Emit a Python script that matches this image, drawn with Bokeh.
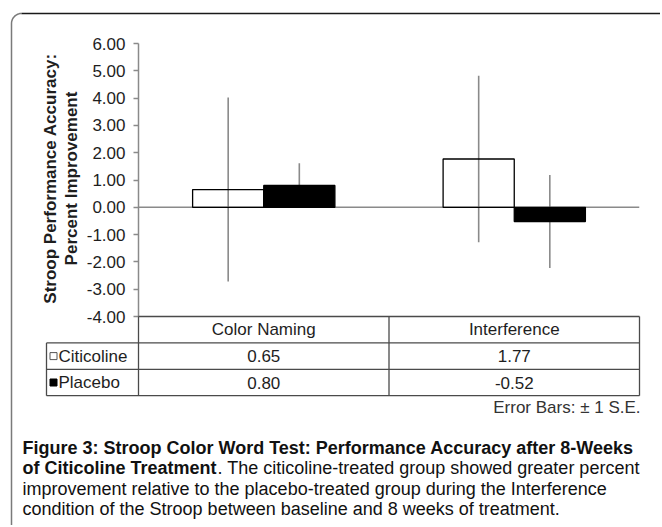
import math
from bokeh.plotting import figure
from bokeh.models import ColumnDataSource, Range1d, FixedTicker, NumeralTickFormatter
from bokeh.transform import dodge
from bokeh.core.properties import value
from bokeh.embed import file_html
from bokeh.resources import INLINE

# ---------------- data ----------------
conditions = ["Color Naming", "Interference"]
groups = ["Citicoline", "Placebo"]
citicoline = [0.65, 1.77]
placebo = [0.80, -0.52]
citicoline_se = [3.37, 3.05]
placebo_se = [0.81, 1.70]
y_ticks = [-4, -3, -2, -1, 0, 1, 2, 3, 4, 5, 6]
axis_title = ["Stroop Performance Accuracy:", "Percent Improvement"]
note = "Error Bars: \u00b1 1 S.E."
cap_line1 = "Figure 3: Stroop Color Word Test: Performance Accuracy after 8-Weeks"
cap_line2_bold = "of Citicoline Treatment"
cap_line2_rest = ". The citicoline-treated group showed greater percent"
cap_line3 = "improvement relative to the placebo-treated group during the Interference"
cap_line4 = "condition of the Stroop between baseline and 8 weeks of treatment."

FONT = "Liberation Sans"
GREY = "#8a8a8a"
TXT = "#1e1e1e"

# ---------------- figure ----------------
W, H = 660, 525
FL, FR, FT, FB = 138, 639, 43, 316   # plot frame in page pixels
n = len(conditions)
p = figure(width=W, height=H, output_backend="svg", toolbar_location=None,
           x_range=Range1d(0, n), y_range=Range1d(-4, 6), x_axis_location=None,
           min_border_left=FL, min_border_right=W - FR, min_border_top=FT, min_border_bottom=H - FB)
p.outline_line_color = None
p.grid.grid_line_color = None
p.background_fill_color = "white"
p.border_fill_color = "white"

# page-pixel helper ranges
p.extra_x_ranges = {"px": Range1d(FL, FR)}
p.extra_y_ranges = {"px": Range1d(FB, FT)}

ax = p.yaxis[0]
ax.ticker = FixedTicker(ticks=y_ticks)
ax.formatter = NumeralTickFormatter(format="0.00")
ax.major_label_text_font = FONT
ax.major_label_text_font_size = "17px"
ax.major_label_text_color = TXT
ax.axis_line_color = GREY
ax.axis_line_width = 1.5
ax.major_tick_line_color = GREY
ax.major_tick_line_width = 1.5
ax.major_tick_out = 5
ax.major_tick_in = 0
ax.minor_tick_line_color = None
ax.major_label_standoff = 8

# ---------------- bars & error bars ----------------
src = ColumnDataSource(dict(
    cond=conditions,
    xpos=[i + 0.5 for i in range(n)],
    cit=citicoline, pla=placebo,
    cit_lo=[v - s for v, s in zip(citicoline, citicoline_se)],
    cit_hi=[v + s for v, s in zip(citicoline, citicoline_se)],
    pla_lo=[v - s for v, s in zip(placebo, placebo_se)],
    pla_hi=[v + s for v, s in zip(placebo, placebo_se)],
    cit_txt=[f"{v:.2f}" for v in citicoline],
    pla_txt=[f"{v:.2f}" for v in placebo],
))
bar_w = 0.284
off = bar_w / 2

# zero line
p.segment(x0=0, x1=n, y0=0, y1=0, line_color=GREY, line_width=1.6)

xc = dodge("xpos", -off)
xp = dodge("xpos", off)
p.segment(x0=xc, x1=xc, y0="cit_lo", y1="cit_hi", source=src, line_color=GREY, line_width=1.6)
p.segment(x0=xp, x1=xp, y0="pla_lo", y1="pla_hi", source=src, line_color=GREY, line_width=1.6)

p.vbar(x=xc, top="cit", bottom=0, width=bar_w, source=src,
       fill_alpha=0, line_color="black", line_width=1.3)
p.vbar(x=xp, top="pla", bottom=0, width=bar_w, source=src,
       fill_color="black", line_color="black", line_width=1.3)

# ---------------- data table below the chart ----------------
TL = "#4a4a4a"
row_h = 26.4
rows_y = [FB + i * row_h for i in range(4)]
label_left = 46
kw = dict(level="overlay", y_range_name="px")
pkw = dict(level="overlay", x_range_name="px", y_range_name="px")

p.segment(x0=0, x1=n, y0=rows_y[0], y1=rows_y[0], line_color=TL, line_width=1.3, **kw)
p.segment(x0=[label_left] * 3, x1=[FR] * 3, y0=rows_y[1:], y1=rows_y[1:],
          line_color=TL, line_width=1.3, **pkw)
bounds = list(range(n + 1))
p.segment(x0=bounds, x1=bounds, y0=[rows_y[0]] * len(bounds), y1=[rows_y[-1]] * len(bounds),
          line_color=TL, line_width=1.3, **kw)
p.segment(x0=[label_left], x1=[label_left], y0=[rows_y[1]], y1=[rows_y[-1]],
          line_color=TL, line_width=1.3, **pkw)

mid = [(rows_y[i] + rows_y[i + 1]) / 2 for i in range(3)]
tkw = dict(text_font=value(FONT), text_font_size="17px", text_color=TXT,
           text_align="center", text_baseline="middle", **kw)
p.text(x="xpos", y=mid[0], text="cond", source=src, **tkw)
p.text(x="xpos", y=mid[1], text="cit_txt", source=src, **tkw)
p.text(x="xpos", y=mid[2], text="pla_txt", source=src, **tkw)

# row labels with legend swatches
sq = 3.5
p.quad(left=[53 - sq] * 2, right=[53 + sq] * 2, top=[m - sq for m in mid[1:]], bottom=[m + sq for m in mid[1:]],
       fill_color=["white", "black"], line_color=["#555555", "black"], line_width=1, **pkw)
p.text(x=[58, 58], y=mid[1:], text=groups, text_font=value(FONT), text_font_size="17px",
       text_color=TXT, text_align="left", text_baseline="middle", **pkw)

# error bar note
p.text(x=[640], y=[407], text=[note], text_font=value(FONT), text_font_size="17px",
       text_color="#333333", text_align="right", text_baseline="middle", **pkw)

# y axis title (two lines)
p.text(x=[50, 71], y=[178, 178], text=axis_title, angle=math.pi / 2,
       text_font=value(FONT), text_font_size="17px", text_font_style="bold",
       text_color=TXT, text_align="center", text_baseline="middle", **pkw)

# caption
cap_y0, cap_dy = 447, 20.5
ckw = dict(text_font=value(FONT), text_font_size="18px", text_color="#111111",
           text_align="left", text_baseline="middle", **pkw)
p.text(x=[22, 22], y=[cap_y0, cap_y0 + cap_dy], text=[cap_line1, cap_line2_bold],
       text_font_style="bold", **ckw)
p.text(x=[217, 22, 22], y=[cap_y0 + cap_dy, cap_y0 + 2 * cap_dy, cap_y0 + 3 * cap_dy],
       text=[cap_line2_rest, cap_line3, cap_line4], **ckw)

# outer rounded frame of the figure panel
r = 10
bx, by = 11, 13
ts = [i * (math.pi / 2) / 12 for i in range(13)]
fx = [bx, bx] + [bx + r - r * math.cos(t) for t in ts]
fy = [H + 20, by + r] + [by + r - r * math.sin(t) for t in ts]
p.line(x=fx, y=fy, line_color="#7a7a7a", line_width=1.5, **pkw)
p.segment(x0=[bx + r], x1=[W + 20], y0=[by], y1=[by], line_color="#1a1a1a", line_width=1.5, **pkw)

open("out.html", "w").write(file_html(p, INLINE))
